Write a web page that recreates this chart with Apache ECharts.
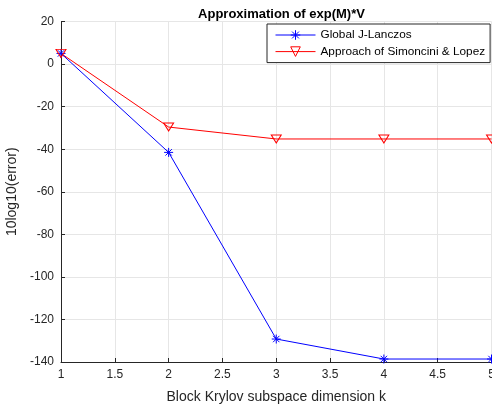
<!DOCTYPE html>
<html><head><meta charset="utf-8">
<script src="https://cdn.jsdelivr.net/npm/echarts@6/dist/echarts.min.js"></script>
<style>html,body{margin:0;padding:0;background:#fff}#c{width:492px;height:411px}</style>
</head><body><div id="c"></div>
<script>
const kValues = [1, 2, 3, 4, 5];
const globalJLanczos = [5, -41.5, -129.2, -138.6, -138.6];
const simonciniLopez = [5, -29.6, -35.2, -35.2, -35.2];
const xTicks = {min: 1, max: 5, interval: 0.5};
const yTicks = {min: -140, max: 20, interval: 20};

const star = 'path://M0,-1L0,1M-1,0L1,0M-0.71,-0.71L0.71,0.71M-0.71,0.71L0.71,-0.71';
const tri = 'path://M-1,-0.85L1,-0.85L0,0.85Z';
const font = 'Liberation Sans, Arial, sans-serif';

const chart = echarts.init(document.getElementById('c'));
chart.setOption({
  animation: false,
  title: {text: 'Approximation of exp(M)*V', left: 276.5, textAlign: 'center', top: 3,
    textStyle: {fontFamily: font, fontSize: 13, fontWeight: 'bold', color: '#000'}},
  grid: {left: 61, right: 0.5, top: 21.5, bottom: 49, containLabel: false, outerBoundsMode: 'none'},
  legend: {
    left: 267, top: 24, orient: 'vertical',
    padding: [4, 5, 4, 8], itemGap: 2.6, itemWidth: 40, itemHeight: 12,
    borderColor: '#262626', borderWidth: 1, backgroundColor: '#fff', borderRadius: 0,
    lineStyle: {width: 1},
    itemStyle: {borderWidth: 1},
    textStyle: {fontFamily: font, fontSize: 11.8, color: '#000', lineHeight: 14},
    data: ['Global J-Lanczos', 'Approach of Simoncini & Lopez']
  },
  xAxis: {
    type: 'value', min: xTicks.min, max: xTicks.max, interval: xTicks.interval,
    name: 'Block Krylov subspace dimension k', nameLocation: 'middle', nameGap: 28,
    nameTextStyle: {fontFamily: font, fontSize: 14, color: '#262626'},
    axisLine: {show: true, onZero: false, lineStyle: {color: '#262626', width: 1}},
    axisTick: {show: true, inside: true, length: 4, lineStyle: {color: '#262626'}},
    axisLabel: {fontFamily: font, fontSize: 12, color: '#262626', margin: 7},
    splitLine: {show: true, lineStyle: {color: '#e6e6e6', width: 1}}
  },
  yAxis: {
    type: 'value', min: yTicks.min, max: yTicks.max, interval: yTicks.interval,
    name: '10log10(error)', nameLocation: 'middle', nameGap: 37,
    nameTextStyle: {fontFamily: font, fontSize: 14, color: '#262626'},
    axisLine: {show: true, onZero: false, lineStyle: {color: '#262626', width: 1}},
    axisTick: {show: true, inside: true, length: 4, lineStyle: {color: '#262626'}},
    axisLabel: {fontFamily: font, fontSize: 12, color: '#262626', margin: 7},
    splitLine: {show: true, lineStyle: {color: '#e6e6e6', width: 1}}
  },
  series: [
    {
      name: 'Global J-Lanczos', type: 'line',
      data: kValues.map((k, i) => [k, globalJLanczos[i]]),
      symbol: star, symbolSize: 9,
      lineStyle: {color: '#0000ff', width: 1},
      itemStyle: {color: 'rgba(0,0,0,0)', borderColor: '#0000ff', borderWidth: 1}
    },
    {
      name: 'Approach of Simoncini & Lopez', type: 'line',
      data: kValues.map((k, i) => [k, simonciniLopez[i]]),
      symbol: tri, symbolSize: [10, 8],
      lineStyle: {color: '#ff0000', width: 1},
      itemStyle: {color: 'rgba(0,0,0,0)', borderColor: '#ff0000', borderWidth: 1}
    }
  ]
});
</script></body></html>
